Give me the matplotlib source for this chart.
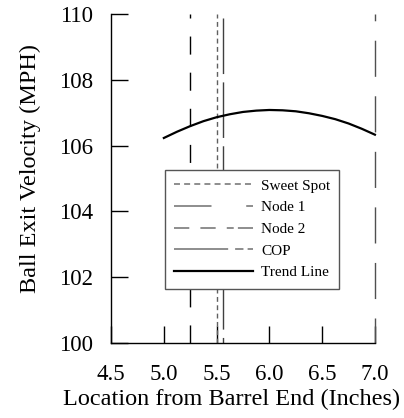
import matplotlib
matplotlib.use("Agg")
import matplotlib.pyplot as plt
from matplotlib.lines import Line2D

# ── data ────────────────────────────────────────────────────────────────
trend_x = [5.0, 5.125, 5.25, 5.375, 5.5, 5.625, 5.75, 5.875, 6.0,
           6.125, 6.25, 6.375, 6.5, 6.625, 6.75, 6.875, 7.0]
trend_y = [106.23, 106.42, 106.59, 106.74, 106.86, 106.95, 107.02, 107.06, 107.08,
           107.07, 107.04, 106.98, 106.90, 106.80, 106.67, 106.51, 106.33]

sweet_spot = 5.50
node1 = 5.25
node2 = 7.00
cop = 5.56

x_ticks = [4.5, 5.0, 5.5, 6.0, 6.5, 7.0]
y_ticks = [100, 102, 104, 106, 108, 110]

plt.rcParams["font.family"] = ["Liberation Serif", "DejaVu Serif"]
plt.rcParams["lines.scale_dashes"] = False

fig = plt.figure(figsize=(4.04, 4.18), dpi=100)
ax = fig.add_axes([0.275, 0.179, 0.653, 0.788])

# vertical reference lines
ax.axvline(sweet_spot, color="#606060", lw=1.0, linestyle=(0, (3.5, 2.5)))
ax.axvline(node1, color="black", lw=1.0, linestyle=(0, (13, 13)))
ax.axvline(node2, color="#505050", lw=1.0, linestyle=(8, (26, 14)), clip_on=False)
ax.axvline(cop, color="#404040", lw=1.0, linestyle=(36, (40, 6)))

ax.plot(trend_x, trend_y, color="black", lw=1.6, clip_on=False)

ax.set_xlim(4.5, 7.0)
ax.set_ylim(100, 110)
ax.set_xticks(x_ticks)
ax.set_yticks(y_ticks)
ax.set_xticklabels([f"{v:.1f}" for v in x_ticks])
ax.set_yticklabels([str(v) for v in y_ticks])
ax.tick_params(direction="in", length=12, width=1, labelsize=16.5, colors="black")
ax.tick_params(axis="x", pad=15)
ax.tick_params(axis="y", pad=13)
for s in ("top", "right"):
    ax.spines[s].set_visible(False)
for s in ("left", "bottom"):
    ax.spines[s].set_linewidth(1.0)

ax.set_xlabel("Location from Barrel End (Inches)", fontsize=17.5)
ax.set_ylabel("Ball Exit Velocity (MPH)", fontsize=17.5)
ax.xaxis.set_label_coords(0.458, -0.14)
ax.yaxis.set_label_coords(-0.265, 0.529)

# legend handles drawn with the reference's legend dash patterns
gray = "#7a7a7a"
handles = [
    Line2D([], [], color=gray, lw=1.2, linestyle=(0, (4.3, 3))),
    Line2D([], [], color=gray, lw=1.2, linestyle=(0, (27, 25, 5, 3))),
    Line2D([], [], color=gray, lw=1.2, linestyle=(0, (11, 8, 11, 8, 5, 3))),
    Line2D([], [], color=gray, lw=1.2, linestyle=(0, (39, 5, 6, 3))),
    Line2D([], [], color="black", lw=1.6),
]
labels = ["Sweet Spot", "Node 1", "Node 2", "COP", "Trend Line"]
leg = ax.legend(handles, labels, loc="upper left", bbox_to_anchor=(0.203, 0.526),
                borderaxespad=0, fontsize=11, handlelength=5.2,
                handletextpad=0.5, labelspacing=0.52, fancybox=False,
                framealpha=1, edgecolor="#555555", borderpad=0.6)
leg.get_frame().set_linewidth(1.0)

fig.savefig("out.png", dpi=100)
